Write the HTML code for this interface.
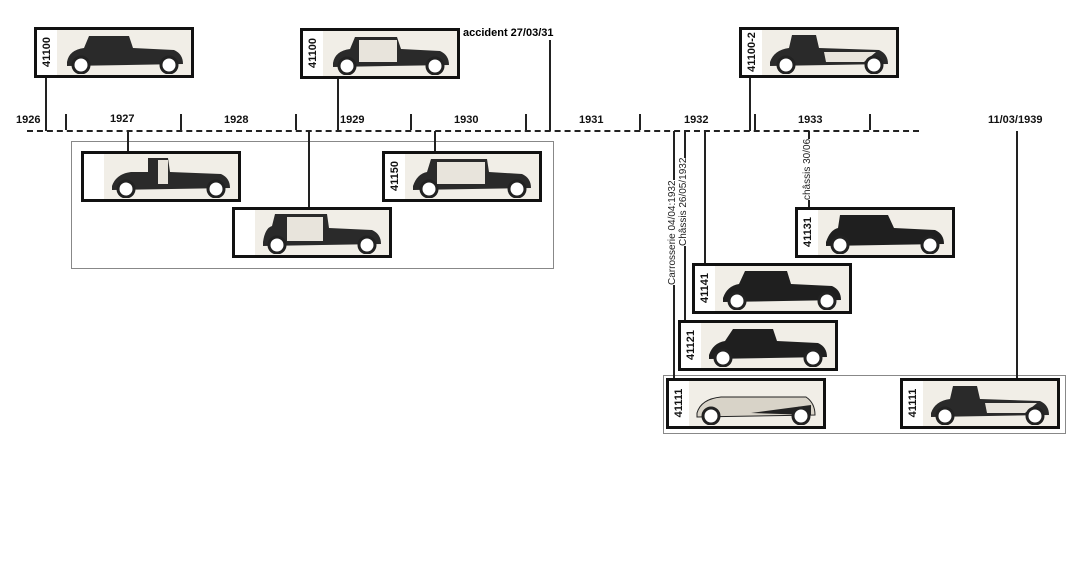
<!DOCTYPE html>
<html><head><meta charset="utf-8"><style>
body{margin:0;background:#fff;}
#c{position:relative;width:1080px;height:574px;overflow:hidden;font-family:"Liberation Sans",sans-serif;}
.a{position:absolute;}
.box{position:absolute;width:154px;height:45px;border:3px solid #111;background:#f1eee7;overflow:hidden;}
.box .lab{position:absolute;left:0;top:0;width:20px;height:45px;background:#fff;}
.box .lab span{position:absolute;left:10px;top:22px;transform:translate(-50%,-50%) rotate(-90deg);font-weight:bold;font-size:11px;white-space:nowrap;color:#111;}
.box svg{position:absolute;left:22px;top:2px;}
.v{position:absolute;width:1.5px;background:#222;}
.t{position:absolute;width:1.5px;height:16px;top:114px;background:#222;}
.y{position:absolute;top:114px;font-weight:bold;font-size:11px;color:#111;}
.g{position:absolute;border:1px solid #888;}
.r{position:absolute;font-size:10px;color:#222;white-space:nowrap;transform-origin:0 0;transform:rotate(-90deg);background:#fff;}
</style></head><body><div id="c">
<div class="a" style="left:27px;top:130px;width:892px;border-top:2px dashed #222;"></div>
<div class="t" style="left:65px"></div><div class="t" style="left:180px"></div><div class="t" style="left:295px"></div><div class="t" style="left:410px"></div><div class="t" style="left:525px"></div><div class="t" style="left:639px"></div><div class="t" style="left:754px"></div><div class="t" style="left:869px"></div>
<div class="y" style="left:16px">1926</div><div class="y" style="left:110px;top:113px">1927</div><div class="y" style="left:224px">1928</div><div class="y" style="left:340px">1929</div><div class="y" style="left:454px">1930</div><div class="y" style="left:579px">1931</div><div class="y" style="left:684px">1932</div><div class="y" style="left:798px">1933</div><div class="y" style="left:988px">11/03/1939</div>
<div class="a" style="left:463px;top:27px;font-weight:bold;font-size:11px;">accident 27/03/31</div>
<div class="g" style="left:71px;top:141px;width:481px;height:126px;"></div>
<div class="g" style="left:663px;top:375px;width:401px;height:57px;"></div>
<div class="v" style="left:45px;top:78px;height:53px"></div>
<div class="v" style="left:337px;top:79px;height:52px"></div>
<div class="v" style="left:549px;top:40px;height:91px"></div>
<div class="v" style="left:749px;top:77px;height:54px"></div>
<div class="v" style="left:127px;top:131px;height:20px"></div>
<div class="v" style="left:308px;top:131px;height:76px"></div>
<div class="v" style="left:434px;top:131px;height:20px"></div>
<div class="v" style="left:673px;top:131px;height:247px"></div>
<div class="v" style="left:684px;top:131px;height:189px"></div>
<div class="v" style="left:704px;top:131px;height:132px"></div>
<div class="v" style="left:808px;top:131px;height:76px"></div>
<div class="v" style="left:1016px;top:131px;height:247px"></div>
<div class="r" style="left:667px;top:285px;">Carrosserie 04/04:1932</div>
<div class="r" style="left:678px;top:246px;">Châssis 26/05/1932</div>
<div class="r" style="left:802px;top:200px;">châssis 30/06</div>
<div class="box" style="left:34px;top:27px"><div class="lab"><span>41100</span></div><svg width="130" height="42" viewBox="0 0 130 42"><path d="M8 30 Q10 18 25 16 L30 4 L70 4 L74 16 L115 18 Q124 22 124 32 L8 34Z" fill="#2a2a2a"/><circle cx="22" cy="33" r="8" fill="#fff" stroke="#222" stroke-width="3"/><circle cx="110" cy="33" r="8" fill="#fff" stroke="#222" stroke-width="3"/></svg></div>
<div class="box" style="left:300px;top:28px"><div class="lab"><span>41100</span></div><svg width="130" height="42" viewBox="0 0 130 42"><path d="M8 30 Q10 18 25 16 L30 4 L72 4 L76 16 L115 18 Q124 22 124 32 L8 34Z" fill="#2a2a2a"/><rect x="34" y="7" width="38" height="22" fill="#e8e4dc"/><circle cx="22" cy="33" r="8" fill="#fff" stroke="#222" stroke-width="3"/><circle cx="110" cy="33" r="8" fill="#fff" stroke="#222" stroke-width="3"/></svg></div>
<div class="box" style="left:739px;top:27px"><div class="lab"><span>41100-2</span></div><svg width="130" height="42" viewBox="0 0 130 42"><path d="M6 30 Q10 18 25 16 L28 3 L52 3 L55 16 L115 18 Q124 22 124 32 L6 34Z" fill="#2a2a2a"/><path d="M60 20 L112 20 L100 30 L62 30Z" fill="#e8e4dc"/><circle cx="22" cy="33" r="8" fill="#fff" stroke="#222" stroke-width="3"/><circle cx="110" cy="33" r="8" fill="#fff" stroke="#222" stroke-width="3"/></svg></div>
<div class="box" style="left:81px;top:151px"><div class="lab"><span></span></div><svg width="130" height="42" viewBox="0 0 130 42"><path d="M6 30 Q10 18 25 16 L42 16 L42 2 L62 2 L64 16 L115 18 Q124 22 124 32 L6 34Z" fill="#2a2a2a"/><rect x="52" y="4" width="10" height="24" fill="#e8e4dc"/><circle cx="20" cy="33" r="8" fill="#fff" stroke="#222" stroke-width="3"/><circle cx="110" cy="33" r="8" fill="#fff" stroke="#222" stroke-width="3"/></svg></div>
<div class="box" style="left:232px;top:207px"><div class="lab"><span></span></div><svg width="130" height="42" viewBox="0 0 130 42"><path d="M6 30 Q8 16 15 14 L18 2 L70 2 L72 16 L115 18 Q124 22 124 32 L6 34Z" fill="#2a2a2a"/><rect x="30" y="5" width="36" height="24" fill="#e8e4dc"/><circle cx="20" cy="33" r="8" fill="#fff" stroke="#222" stroke-width="3"/><circle cx="110" cy="33" r="8" fill="#fff" stroke="#222" stroke-width="3"/></svg></div>
<div class="box" style="left:382px;top:151px"><div class="lab"><span>41150</span></div><svg width="130" height="42" viewBox="0 0 130 42"><path d="M6 30 Q10 18 20 16 L24 3 L80 3 L82 16 L115 18 Q124 22 124 32 L6 34Z" fill="#2a2a2a"/><rect x="30" y="6" width="48" height="22" fill="#e8e4dc"/><circle cx="22" cy="33" r="8" fill="#fff" stroke="#222" stroke-width="3"/><circle cx="110" cy="33" r="8" fill="#fff" stroke="#222" stroke-width="3"/></svg></div>
<div class="box" style="left:795px;top:207px"><div class="lab"><span>41131</span></div><svg width="130" height="42" viewBox="0 0 130 42"><path d="M6 30 Q10 18 18 16 L20 3 L68 3 L74 16 L115 18 Q124 22 124 32 L6 34Z" fill="#1f1f1f"/><circle cx="20" cy="33" r="8" fill="#fff" stroke="#222" stroke-width="3"/><circle cx="110" cy="33" r="8" fill="#fff" stroke="#222" stroke-width="3"/></svg></div>
<div class="box" style="left:692px;top:263px"><div class="lab"><span>41141</span></div><svg width="130" height="42" viewBox="0 0 130 42"><path d="M6 30 Q10 18 22 16 L28 3 L70 3 L74 16 L115 18 Q124 22 124 32 L6 34Z" fill="#1f1f1f"/><circle cx="20" cy="33" r="8" fill="#fff" stroke="#222" stroke-width="3"/><circle cx="110" cy="33" r="8" fill="#fff" stroke="#222" stroke-width="3"/></svg></div>
<div class="box" style="left:678px;top:320px"><div class="lab"><span>41121</span></div><svg width="130" height="42" viewBox="0 0 130 42"><path d="M6 30 Q10 18 22 16 L30 4 L70 4 L74 16 L115 18 Q124 22 124 32 L6 34Z" fill="#1f1f1f"/><circle cx="20" cy="33" r="8" fill="#fff" stroke="#222" stroke-width="3"/><circle cx="110" cy="33" r="8" fill="#fff" stroke="#222" stroke-width="3"/></svg></div>
<div class="box" style="left:666px;top:378px"><div class="lab"><span>41111</span></div><svg width="130" height="42" viewBox="0 0 130 42"><path d="M6 30 Q10 16 30 14 L115 14 Q124 20 124 32 L6 34Z" fill="#d8d3c8" stroke="#222"/><path d="M60 30 L120 22 L120 32Z" fill="#222"/><circle cx="20" cy="33" r="8" fill="#fff" stroke="#222" stroke-width="3"/><circle cx="110" cy="33" r="8" fill="#fff" stroke="#222" stroke-width="3"/></svg></div>
<div class="box" style="left:900px;top:378px"><div class="lab"><span>41111</span></div><svg width="130" height="42" viewBox="0 0 130 42"><path d="M6 30 Q10 18 25 16 L28 3 L52 3 L55 16 L115 18 Q124 22 124 32 L6 34Z" fill="#2a2a2a"/><path d="M60 20 L112 20 L100 30 L62 30Z" fill="#e8e4dc"/><circle cx="20" cy="33" r="8" fill="#fff" stroke="#222" stroke-width="3"/><circle cx="110" cy="33" r="8" fill="#fff" stroke="#222" stroke-width="3"/></svg></div>
</div></body></html>
